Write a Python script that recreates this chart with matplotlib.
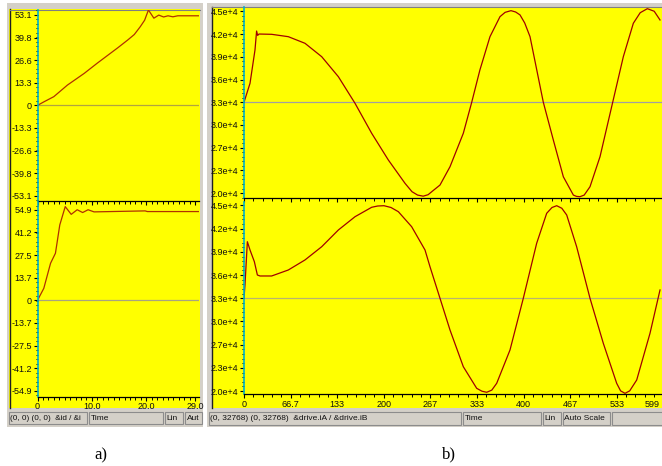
import matplotlib
matplotlib.use('Agg')
import matplotlib.pyplot as plt
from matplotlib.patches import Rectangle
from matplotlib.ticker import MultipleLocator, AutoMinorLocator
from matplotlib.transforms import ScaledTranslation

plt.rcParams['font.family'] = ['Liberation Sans', 'DejaVu Sans']

# ---------------- data ----------------
# panel a) top trace (&id)
a_top_t = [0, 1.2, 3.0, 5.5, 8.6, 11.0, 14.8, 16.6, 17.8, 18.9, 19.7, 20.4,
           21.4, 22.3, 23.2, 24.0, 24.9, 25.8, 29.7]
a_top_v = [0, 2.1, 5.1, 11.9, 18.8, 24.8, 33.9, 38.4, 41.6, 46.2, 50.0, 56.0,
           51.2, 53.0, 51.9, 52.6, 52.0, 52.6, 52.6]
# panel a) bottom trace (&iq)
a_bot_t = [0, 1.16, 2.4, 3.3, 4.1, 5.1, 6.2, 7.3, 8.3, 9.3, 10.4, 19.8, 20.2, 29.7]
a_bot_v = [0, 7.3, 22.5, 28.6, 45.8, 56.9, 52.2, 55.0, 53.3, 55.0, 53.7, 54.3, 53.9, 53.9]

# panel b) top trace (&drive.iA)
b_top_t = [0, 8.6, 15.7, 18.0, 19.5, 21.4, 39.5, 63.3, 87.1, 111, 134.8, 158.6, 182.4,
           206.2, 230, 240, 248, 256, 263, 270, 280, 294.3, 313.3, 325.3, 337, 351.4,
           365.7, 373, 381.4, 388, 394.3, 401, 408.6, 427.6, 441.9, 456.2, 470.5, 475,
           480, 486, 494.3, 508.6, 526.7, 541.9, 556.2, 566, 576.2, 586, 594.3]
b_top_v = [32768, 35363, 39910, 42500, 41900, 42090, 42050, 41727, 40825, 38995, 36264,
           32631, 28535, 24888, 21706, 20560, 20100, 19950, 20150, 20700, 21470, 23970,
           28535, 32768, 37180, 41730, 44460, 45050, 45280, 45100, 44700, 43600, 41730,
           32768, 27620, 22600, 20100, 19920, 19880, 20100, 21240, 25340, 32768, 38995,
           43560, 45000, 45550, 45200, 44010]
# panel b) bottom trace (&drive.iB)
b_bot_t = [0, 1.4, 4.8, 8.6, 14.8, 19.1, 22.9, 39.5, 63.3, 87.1, 111, 134.8, 158.6,
           182.4, 191, 200, 210, 220.5, 239.5, 258.6, 265.7, 280, 294.3, 313.3, 332.4,
           340, 346.7, 354, 361, 380, 399, 418.1, 432.4, 440, 446.7, 454, 461, 475.2,
           494.3, 513.3, 532.4, 538, 544.3, 551, 561, 580, 594.3]
b_bot_v = [32768, 34545, 40330, 39220, 37660, 35880, 35750, 35750, 36550, 37890, 39660,
           41895, 43670, 44930, 45100, 45140, 44900, 44340, 42335, 39220, 36990, 32768,
           28530, 23630, 20740, 20350, 20210, 20500, 21410, 25860, 32768, 40120, 44125,
           44900, 45140, 44800, 43900, 39660, 32768, 26755, 21410, 20400, 20070, 20400,
           21850, 28090, 33880]

# tick labels
a_top_yticks = [53.1, 39.8, 26.6, 13.3, 0, -13.3, -26.6, -39.8, -53.1]
a_top_ylabels = ['53.1', '39.8', '26.6', '13.3', '0', '-13.3', '-26.6', '-39.8', '-53.1']
a_bot_yticks = [54.9, 41.2, 27.5, 13.7, 0, -13.7, -27.5, -41.2, -54.9]
a_bot_ylabels = ['54.9', '41.2', '27.5', '13.7', '0', '-13.7', '-27.5', '-41.2', '-54.9']
a_xticks = [0, 10, 20, 29]
a_xlabels = ['0', '10.0', '20.0', '29.0']
b_yticks = [45168, 42068, 38968, 35868, 32768, 29668, 26568, 23468, 20368]
b_ylabels = ['4.5e+4', '4.2e+4', '3.9e+4', '3.6e+4', '3.3e+4', '3.0e+4', '2.7e+4',
             '2.3e+4', '2.0e+4']
b_xticks = [0, 66.56, 133.1, 199.7, 266.2, 332.8, 399.3, 465.9, 532.4, 599]
b_xlabels = ['0', '66.7', '133', '200', '267', '333', '400', '467', '533', '599']

a_status = ['(0, 0) (0, 0)  &id / &i', 'Time', 'Lin', 'Aut']
b_status = ['(0, 32768) (0, 32768)  &drive.iA / &drive.iB', 'Time', 'Lin', 'Auto Scale', '']

# ---------------- figure ----------------
W, H = 662, 466
fig = plt.figure(figsize=(W / 100, H / 100), dpi=100)


def box(x0, y0, x1, y1):
    return [x0 / W, 1 - y1 / H, (x1 - x0) / W, (y1 - y0) / H]


bg = fig.add_axes([0, 0, 1, 1])
bg.set_xlim(0, W)
bg.set_ylim(H, 0)
bg.axis('off')

GRAY = '#d4d0c8'
YEL = '#ffff00'
# panel a frame
bg.add_patch(Rectangle((7, 3), 196, 424, fc=GRAY, ec='none'))
bg.add_patch(Rectangle((9, 9), 191, 399, fc=YEL, ec='none'))
bg.plot([9.5, 9.5], [9, 408], color='#202020', lw=1)
bg.plot([9.5, 200], [9.5, 9.5], color='#808080', lw=0.8)
# panel b frame
bg.add_patch(Rectangle((207, 3), 455, 424, fc=GRAY, ec='none'))
bg.add_patch(Rectangle((212, 7), 450, 401, fc=YEL, ec='none'))
bg.plot([211.5, 211.5], [7, 408], color='#202020', lw=1)
bg.plot([211.5, 662], [7, 7], color='#808080', lw=0.8)

# status bars
a_cells = [(9, 87), (89, 163), (165, 183), (185, 202)]
b_cells = [(209, 461), (463, 541), (543, 561), (563, 610), (612, 664)]
for cells, texts, y0, y1 in [(a_cells, a_status, 411.5, 423.5), (b_cells, b_status, 411.5, 424.5)]:
    for (x0, x1), t in zip(cells, texts):
        bg.add_patch(Rectangle((x0, y0), x1 - x0, y1 - y0, fc=GRAY, ec='#8c8c8c', lw=0.8))
        fs = 6.0
        if x1 - x0 < 90 and len(t) > 12:
            fs = 5.9
        bg.text(x0 + 1.5, (y0 + y1) / 2 + 0.5, t, fontsize=fs, va='center', ha='left',
                color='#101010')

bg.text(101, 455, 'a)', fontsize=12, family=['Liberation Serif', 'DejaVu Serif'],
        ha='center', va='center')
bg.text(449, 454, 'b)', fontsize=12, family=['Liberation Serif', 'DejaVu Serif'],
        ha='center', va='center')

CURVE = '#a00000'


def style(ax, show_x):
    ax.set_facecolor('none')
    ax.spines['top'].set_visible(False)
    ax.spines['right'].set_visible(False)
    ax.spines['left'].set_color('#00b4c8')
    ax.spines['left'].set_linewidth(1.2)
    ax.spines['bottom'].set_color('black')
    ax.spines['bottom'].set_linewidth(0.9)
    ax.tick_params(which='major', length=3, width=0.8, color='black', labelsize=6.5,
                   pad=1, labelcolor='#101010')
    ax.tick_params(which='minor', length=1.8, width=0.7, color='black')
    if not show_x:
        ax.tick_params(axis='x', labelbottom=False)


axA1 = fig.add_axes(box(37.5, 10, 199, 200.7))
axA2 = fig.add_axes(box(37.5, 202, 199, 396.7))
axB1 = fig.add_axes(box(244, 7, 680, 198))
axB2 = fig.add_axes(box(244, 202, 680, 394.3))

for ax, t, v, zero, zc, yt, yl, ylim in [
        (axA1, a_top_t, a_top_v, 0, '#b0a440', a_top_yticks, a_top_ylabels, (-56, 56)),
        (axA2, a_bot_t, a_bot_v, 0, '#a8a480', a_bot_yticks, a_bot_ylabels, (-58.5, 59.7))]:
    ax.axhline(zero, color=zc, lw=0.9, zorder=1)
    ax.plot(t, v, color='#b03000', lw=0.9, zorder=2)
    ax.set_xlim(0, 29.7)
    ax.set_ylim(*ylim)
    ax.set_yticks(yt, yl)
    ax.set_xticks(a_xticks, a_xlabels)
    ax.xaxis.set_minor_locator(MultipleLocator(1))
    ax.yaxis.set_minor_locator(AutoMinorLocator(5))
    style(ax, ax is axA2)

for ax, t, v, zc, ylim in [
        (axB1, b_top_t, b_top_v, '#a0a0a0', (19700, 45780)),
        (axB2, b_bot_t, b_bot_v, '#b8b470', (19940, 45635))]:
    ax.axhline(32768, color=zc, lw=0.9, zorder=1)
    ax.plot(t, v, color=CURVE, lw=0.9, zorder=2)
    ax.set_xlim(0, 436 / 0.70)
    ax.set_ylim(*ylim)
    ax.set_yticks(b_yticks, b_ylabels)
    ax.set_xticks(b_xticks, b_xlabels)
    ax.xaxis.set_minor_locator(AutoMinorLocator(5))
    ax.yaxis.set_minor_locator(AutoMinorLocator(5))
    style(ax, ax is axB2)

# keep the last time label ("599") inside the picture
last = axB2.get_xticklabels()[-1]
last.set_horizontalalignment('right')
last.set_transform(last.get_transform() + ScaledTranslation(-4 / 100, 0, fig.dpi_scale_trans))

fig.savefig('out.png', dpi=100)
